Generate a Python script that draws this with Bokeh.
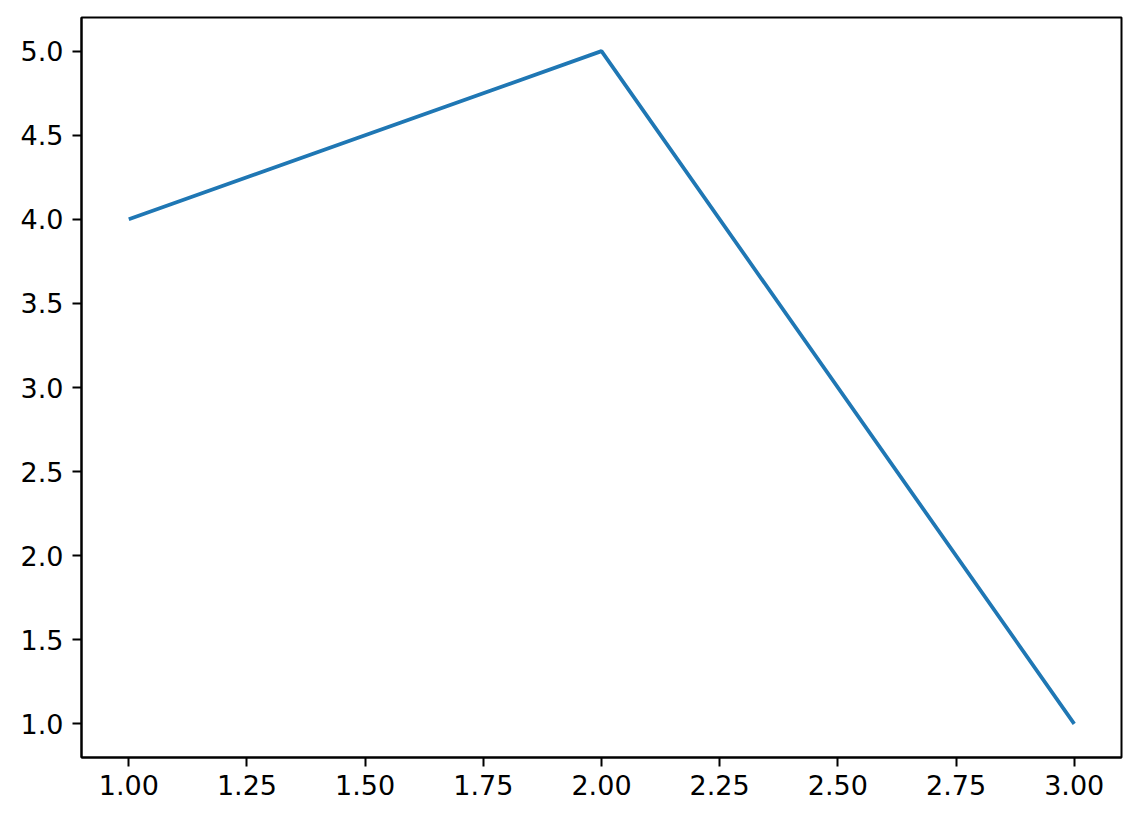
from bokeh.plotting import figure
from bokeh.models import FixedTicker, NumeralTickFormatter, Range1d
from bokeh.embed import file_html
from bokeh.resources import INLINE

x_values = [1, 2, 3]
y_values = [4, 5, 1]
x_ticks = [1.0, 1.25, 1.5, 1.75, 2.0, 2.25, 2.5, 2.75, 3.0]
y_ticks = [1.0, 1.5, 2.0, 2.5, 3.0, 3.5, 4.0, 4.5, 5.0]

p = figure(
    frame_width=1040, frame_height=740,
    min_border_left=81, min_border_right=12, min_border_top=17, min_border_bottom=57,
    x_range=Range1d(0.9, 3.1), y_range=Range1d(0.8, 5.2),
    output_backend="svg", toolbar_location=None,
)
p.line(x_values, y_values, line_color="#1f77b4", line_width=3.75)

p.xgrid.visible = False
p.ygrid.visible = False
p.outline_line_color = "black"
p.outline_line_width = 2
p.outline_line_alpha = 1
p.background_fill_color = "white"
p.border_fill_color = "white"

p.xaxis.ticker = FixedTicker(ticks=x_ticks)
p.yaxis.ticker = FixedTicker(ticks=y_ticks)
p.xaxis.formatter = NumeralTickFormatter(format="0.00")
p.yaxis.formatter = NumeralTickFormatter(format="0.0")

for ax in (p.xaxis, p.yaxis):
    ax.axis_line_color = "black"
    ax.axis_line_width = 2
    ax.major_tick_line_color = "black"
    ax.major_tick_line_width = 2
    ax.major_tick_out = 9
    ax.major_tick_in = 0
    ax.minor_tick_line_color = None
    ax.major_label_text_font = "DejaVu Sans"
    ax.major_label_text_font_size = "27px"
    ax.major_label_text_color = "black"
p.xaxis.major_label_standoff = 8
p.yaxis.major_label_standoff = 9

open("out.html", "w").write(file_html(p, INLINE))
